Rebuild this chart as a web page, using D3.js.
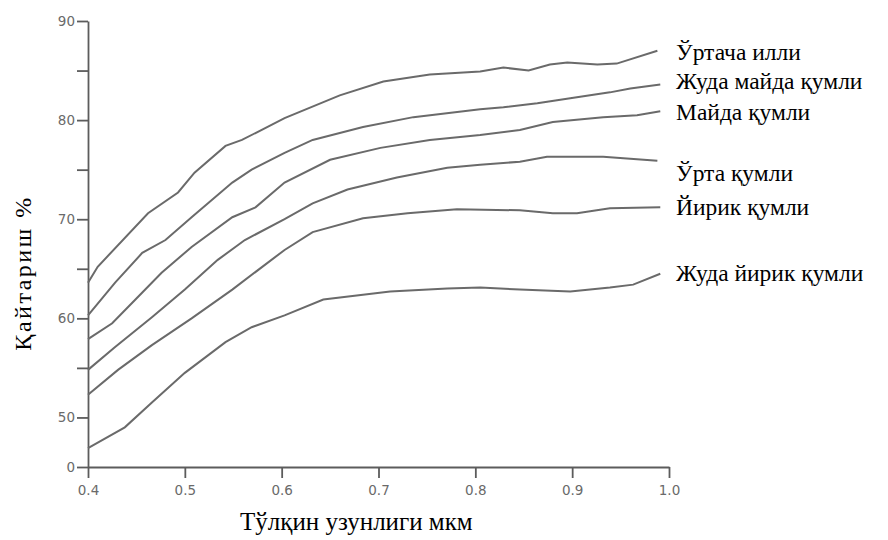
<!DOCTYPE html>
<html>
<head>
<meta charset="utf-8">
<script src="https://cdn.jsdelivr.net/npm/d3@7"></script>
<style>
  body { margin: 0; background: #fff; }
  .tick text { font-family: "DejaVu Sans", sans-serif; font-size: 13.5px; fill: #6a6a6a; }
  .serif { font-family: "Liberation Serif", "Times New Roman", serif; fill: #000; }
</style>
</head>
<body>
<div id="chart"></div>
<script>
// Curves: [wavelength (mkm), reflection %]
var ortachaIlli = [[0.40, 63.6], [0.41, 65.2], [0.462, 70.6], [0.493, 72.7], [0.51, 74.7], [0.542, 77.4], [0.559, 78.0], [0.603, 80.2], [0.66, 82.5], [0.705, 83.9], [0.753, 84.6], [0.805, 84.9], [0.829, 85.3], [0.855, 85.0], [0.877, 85.6], [0.895, 85.8], [0.926, 85.6], [0.946, 85.7], [0.988, 87.0]];
var judaMaydaQumli = [[0.40, 60.3], [0.428, 63.6], [0.456, 66.6], [0.48, 67.9], [0.507, 70.2], [0.549, 73.7], [0.569, 75.0], [0.603, 76.7], [0.632, 78.0], [0.684, 79.3], [0.736, 80.3], [0.805, 81.1], [0.829, 81.3], [0.864, 81.7], [0.898, 82.2], [0.939, 82.8], [0.96, 83.2], [0.991, 83.6]];
var maydaQumli = [[0.40, 57.9], [0.425, 59.5], [0.449, 61.9], [0.476, 64.6], [0.507, 67.2], [0.549, 70.2], [0.573, 71.2], [0.603, 73.7], [0.65, 76.0], [0.702, 77.2], [0.753, 78.0], [0.805, 78.5], [0.846, 79.0], [0.88, 79.8], [0.932, 80.3], [0.967, 80.5], [0.991, 80.9]];
var ortaQumli = [[0.40, 54.8], [0.428, 57.1], [0.466, 60.1], [0.50, 62.9], [0.534, 65.9], [0.562, 67.9], [0.603, 70.0], [0.632, 71.6], [0.668, 73.0], [0.719, 74.2], [0.771, 75.2], [0.805, 75.5], [0.846, 75.8], [0.874, 76.3], [0.932, 76.3], [0.988, 75.9]];
var yirikQumli = [[0.40, 52.3], [0.431, 54.8], [0.466, 57.3], [0.507, 60.0], [0.549, 62.9], [0.603, 66.9], [0.632, 68.7], [0.684, 70.1], [0.73, 70.6], [0.781, 71.0], [0.846, 70.9], [0.88, 70.6], [0.905, 70.6], [0.939, 71.1], [0.991, 71.2]];
var judaYirikQumli = [[0.40, 46.9], [0.438, 49.0], [0.466, 51.5], [0.50, 54.5], [0.542, 57.6], [0.569, 59.1], [0.603, 60.3], [0.643, 61.9], [0.712, 62.7], [0.771, 63.0], [0.805, 63.1], [0.846, 62.9], [0.898, 62.7], [0.939, 63.1], [0.963, 63.4], [0.991, 64.5]];

var seriesNames = ["Ўртача илли", "Жуда майда қумли", "Майда қумли", "Ўрта қумли", "Йирик қумли", "Жуда йирик қумли"];
var xTicks = [0.4, 0.5, 0.6, 0.7, 0.8, 0.9, 1.0];
var yTicks = [45, 50, 55, 60, 65, 70, 75, 80, 85, 90]; // bottom tick is drawn as "0" (broken axis)

var allSeries = [ortachaIlli, judaMaydaQumli, maydaQumli, ortaQumli, yirikQumli, judaYirikQumli];

// Layout parameters.
var svgWidth = 888;
var svgHeight = 540;
var labelBaselines = [60, 89, 120, 181, 215, 281];

var svg = d3.select("#chart")
  .append("svg")
  .attr("width", svgWidth)
  .attr("height", svgHeight);

var xScale = d3.scaleLinear().domain([0.4, 1.0]).range([88, 669]);
var yScale = d3.scaleLinear().domain([45, 90]).range([467, 21]);

// Axes.
var bottomAxis = d3.axisBottom(xScale)
  .tickValues(xTicks)
  .tickFormat(d3.format(".1f"))
  .tickSize(11)
  .tickSizeOuter(0)
  .tickPadding(7);

var leftAxis = d3.axisLeft(yScale)
  .tickValues(yTicks)
  .tickFormat(d => d === 45 ? "0" : (d % 10 === 0 ? d : ""))
  .tickSize(11)
  .tickSizeOuter(0)
  .tickPadding(2);

svg.append("g")
  .attr("transform", "translate(0, 467)")
  .call(bottomAxis);

svg.append("g")
  .attr("transform", "translate(88, 0)")
  .call(leftAxis);

svg.selectAll(".domain, .tick line")
  .attr("stroke", "#5c5c5c")
  .attr("stroke-width", 1.8);

// Curves.
var line = d3.line()
  .x(d => xScale(d[0]))
  .y(d => yScale(d[1]));

svg.selectAll("path.curve")
  .data(allSeries)
  .enter()
  .append("path")
  .attr("class", "curve")
  .attr("d", line)
  .attr("fill", "none")
  .attr("stroke", "#6a6a6a")
  .attr("stroke-width", 2);

// Curve labels.
svg.selectAll("text.label")
  .data(seriesNames)
  .enter()
  .append("text")
  .attr("class", "label serif")
  .attr("x", 676)
  .attr("y", (d, i) => labelBaselines[i])
  .attr("font-size", "23.5px")
  .text(d => d);

// Axis titles.
svg.append("text")
  .attr("class", "serif")
  .attr("x", 240)
  .attr("y", 530)
  .attr("font-size", "25px")
  .text("Тўлқин узунлиги мкм");

svg.append("text")
  .attr("class", "serif")
  .attr("transform", "translate(31, 273) rotate(-90)")
  .attr("text-anchor", "middle")
  .attr("font-size", "24px")
  .attr("letter-spacing", "2.5px")
  .text("Қайтариш   %");
</script>
</body>
</html>
